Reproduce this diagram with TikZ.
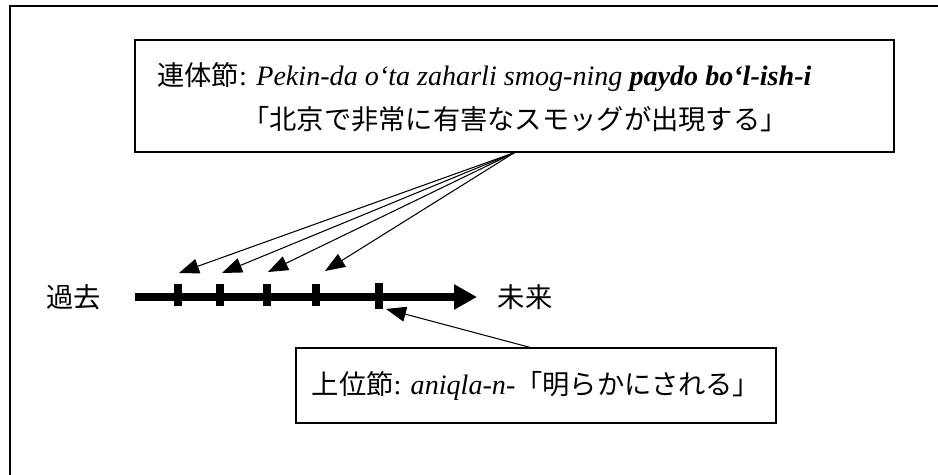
\documentclass[tikz,border=0pt]{standalone}
\usepackage{fontspec}
\setmainfont{Liberation Serif}
\newfontfamily\jp{Noto Sans CJK JP}[Scale=0.97]
\usetikzlibrary{arrows.meta}

\begin{document}
\begin{tikzpicture}[x=0.02cm, y=-0.02cm,
    font=\fontsize{16}{20}\selectfont,
    box/.style = {draw, line width=0.7pt, inner sep=0pt},
    txt/.style = {inner sep=0pt},
    tick/.style = {fill=black, inner sep=0pt, minimum width=0.16cm},
    ptr/.style = {-{Triangle[length=0.4cm, width=0.3cm]}, line width=0.6pt}
  ]
    \useasboundingbox (0,0) rectangle (938,475);
    % frame
    \draw[line width=1.2pt] (10,480) -- (10,6) -- (945,6);
    % define points
    \path
      (135,297) coordinate(axL)
      (477,297) coordinate(axR)
      (179,273) coordinate(a1)
      (222,273) coordinate(a2)
      (268,272) coordinate(a3)
      (325,271) coordinate(a4)
      (386,309) coordinate(a5)
    ;
    % boxes
    \node[box, minimum width=15.18cm, minimum height=2.24cm] (rel) at (514.5,96) {};
    \node[txt, anchor=west] (relA) at (157,77)
      {{\jp 連体節}: \textit{Pekin-da o‘ta zaharli smog-ning \textbf{paydo bo‘l-ish-i}}};
    \node[txt] (relB) at (515,119) {\jp 「北京で非常に有害なスモッグが出現する」};
    \node[box, minimum width=9.6cm, minimum height=1.5cm] (main) at (536,385.5)
      {{\jp 上位節}: \textit{aniqla-n-}{\jp 「明らかにされる」}};
    % time line
    \node[txt] (kako) at (74,297) {\jp 過去};
    \node[txt] (mirai) at (525,297) {\jp 未来};
    \draw[line width=5.1pt, -{Triangle[length=0.46cm, width=0.48cm]}] (axL) -- (axR);
    \foreach \n/\x in {1/178,2/220,3/267,4/316}{
      \node[tick, minimum height=0.44cm] (t\n) at (\x,295) {};
    }
    \node[tick, minimum height=0.52cm] (t5) at (379,296) {};
    % arrows
    \foreach \n in {1,...,4}{
      \draw[ptr] (rel.south) -- (a\n);
    }
    \draw[ptr] ([xshift=-0.12cm]main.north) -- (a5);
\end{tikzpicture}
\end{document}
